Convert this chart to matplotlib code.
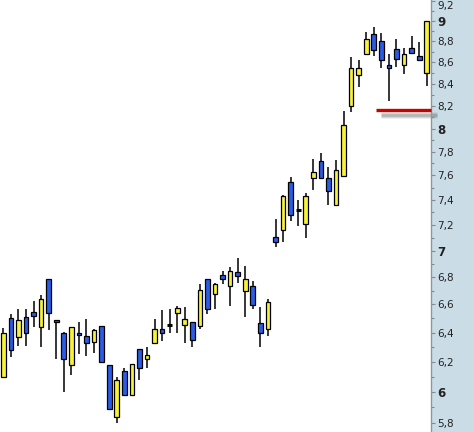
import numpy as np
import matplotlib
matplotlib.use('Agg')
import matplotlib.pyplot as plt
from matplotlib.ticker import FixedLocator, NullFormatter

# OHLC, one entry per session
opens = [6.10, 6.50, 6.37, 6.51, 6.545, 6.44, 6.785, 6.49, 6.395, 6.175,
         6.395, 6.375, 6.335, 6.445, 6.18, 5.835, 6.14, 5.975, 6.285, 6.215,
         6.325, 6.425, 6.45, 6.54, 6.45, 6.475, 6.445, 6.79, 6.675, 6.815,
         6.735, 6.835, 6.70, 6.735, 6.465, 6.425, 7.105, 7.16, 7.545, 7.315,
         7.205, 7.575, 7.72, 7.575, 7.355, 7.595, 8.20, 8.48, 8.675, 8.87,
         8.80, 8.575, 8.725, 8.575, 8.735, 8.66, 8.50]
highs = [6.43, 6.53, 6.57, 6.57, 6.625, 6.67, 6.785, 6.49, 6.405, 6.44,
         6.475, 6.495, 6.425, 6.445, 6.18, 6.10, 6.16, 6.185, 6.285, 6.30,
         6.495, 6.56, 6.57, 6.59, 6.585, 6.475, 6.75, 6.79, 6.76, 6.845,
         6.875, 6.945, 6.88, 6.775, 6.585, 6.64, 7.245, 7.44, 7.585, 7.40,
         7.455, 7.735, 7.785, 7.67, 7.73, 8.155, 8.65, 8.62, 8.89, 8.935,
         8.88, 8.68, 8.82, 8.735, 8.85, 8.79, 8.995]
lows = [6.10, 6.23, 6.31, 6.31, 6.44, 6.30, 6.42, 6.22, 6.00, 6.11,
        6.255, 6.24, 6.26, 6.20, 5.885, 5.80, 5.975, 5.975, 6.08, 6.16,
        6.325, 6.345, 6.40, 6.40, 6.33, 6.30, 6.425, 6.535, 6.565, 6.75,
        6.59, 6.755, 6.51, 6.565, 6.30, 6.375, 7.025, 7.07, 7.23, 7.195,
        7.095, 7.48, 7.575, 7.355, 7.355, 7.595, 8.145, 8.375, 8.675, 8.66,
        8.545, 8.245, 8.555, 8.49, 8.685, 8.62, 8.38]
closes = [6.40, 6.28, 6.49, 6.40, 6.515, 6.64, 6.54, 6.475, 6.215, 6.44,
          6.38, 6.325, 6.415, 6.20, 5.885, 6.08, 5.975, 6.185, 6.155, 6.245,
          6.425, 6.395, 6.45, 6.575, 6.495, 6.35, 6.705, 6.565, 6.75, 6.79,
          6.845, 6.81, 6.785, 6.595, 6.395, 6.615, 7.065, 7.43, 7.275, 7.315,
          7.43, 7.625, 7.575, 7.47, 7.645, 8.03, 8.55, 8.55, 8.82, 8.715,
          8.62, 8.545, 8.63, 8.675, 8.685, 8.62, 8.995]

# horizontal level drawn in red on the right
level = 8.16
level_start = 50

major_ticks = [5.8, 6.0, 6.2, 6.4, 6.6, 6.8, 7.0, 7.2, 7.4, 7.6, 7.8, 8.0,
               8.2, 8.4, 8.6, 8.8, 9.0, 9.2]
minor_ticks = [5.9, 6.1, 6.3, 6.5, 6.7, 6.9, 7.1, 7.3, 7.5, 7.7, 7.9, 8.1,
               8.3, 8.5, 8.7, 8.9, 9.1]

up_col = '#f7f23a'
down_col = '#2b5ce6'
panel_col = '#cadde6'

fig = plt.figure(figsize=(4.74, 4.32), dpi=100)
fig.patch.set_facecolor(panel_col)
ax = fig.add_axes([0, 0, 430.5 / 474, 1])
ax.set_facecolor('white')

x = np.arange(len(opens))
o = np.array(opens)
h = np.array(highs)
l = np.array(lows)
c = np.array(closes)

ax.vlines(x, l, h, color='black', lw=1.1, zorder=2)

up = c >= o
cols = np.where(up, up_col, down_col)
bottoms = np.minimum(o, c)
heights = np.abs(c - o)
flat = heights < 0.005
ax.bar(x[~flat], heights[~flat], bottom=bottoms[~flat], width=0.62,
       color=cols[~flat], edgecolor='black', linewidth=0.9, zorder=3)
ax.hlines(o[flat], x[flat] - 0.35, x[flat] + 0.35, color='black', lw=2.2, zorder=3)

# red level with a soft shadow
for lw, a in [(5, 0.12), (3.5, 0.2), (2, 0.3)]:
    ax.plot([level_start - 0.1, 57.3], [level * 0.9955, level * 0.9955],
            color='#707070', lw=lw, alpha=a, solid_capstyle='butt', zorder=1,
            clip_on=False)
ax.plot([level_start - 0.7, 56.6], [level, level], color='#c80000', lw=2.4,
        solid_capstyle='butt', zorder=4, clip_on=False)

ax.set_yscale('log')
ax.set_ylim(5.741, 9.207)
ax.set_xlim(-0.44, 56.5)

ax.yaxis.set_major_locator(FixedLocator(major_ticks))
ax.yaxis.set_minor_locator(FixedLocator(minor_ticks))
ax.yaxis.set_minor_formatter(NullFormatter())
ax.set_yticklabels([('%g' % t).replace('.', ',') for t in major_ticks])
ax.yaxis.tick_right()
ax.tick_params(axis='y', which='major', direction='out', length=3, width=0.8,
               color='#7f8c93', labelsize=7.5, labelcolor='#222222', pad=2)
ax.tick_params(axis='y', which='minor', direction='out', length=2, width=0.8,
               color='#7f8c93')
labels = ax.get_yticklabels()
for lab, t in zip(labels, major_ticks):
    if abs(t - round(t)) < 1e-6:
        lab.set_fontweight('bold')
        lab.set_fontsize(8.5)
labels[-1].set_verticalalignment('top')
ax.set_xticks([])

for side in ['top', 'bottom', 'left']:
    ax.spines[side].set_visible(False)
ax.spines['right'].set_color('#8a979e')
ax.spines['right'].set_linewidth(1.0)

fig.savefig('out.png', dpi=100, facecolor=fig.get_facecolor())
